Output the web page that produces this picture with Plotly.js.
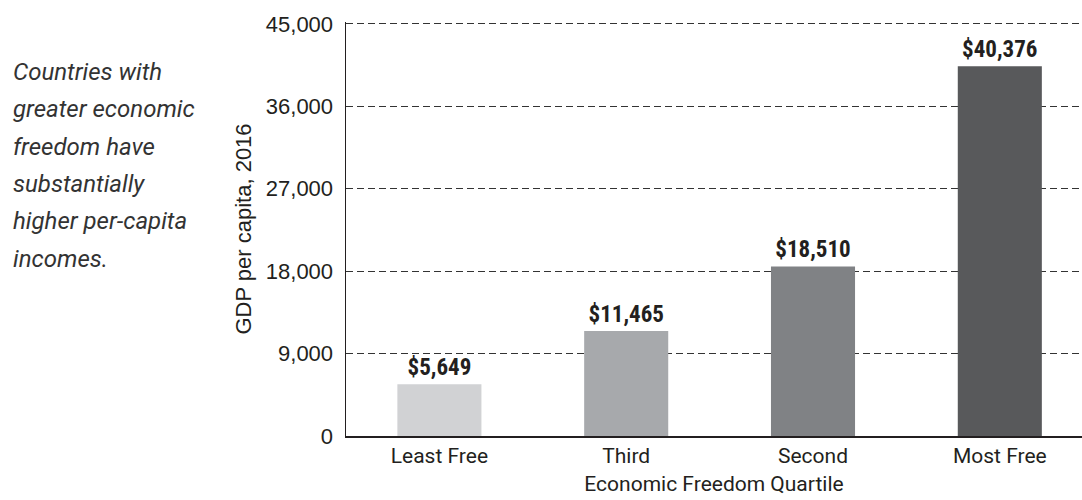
<!DOCTYPE html>
<html><head><meta charset="utf-8">
<script src="https://cdn.plot.ly/plotly-3.0.1.min.js"></script>
<style>body{margin:0;background:#fff}#c{width:1082px;height:500px}</style>
</head><body><div id="c"></div>
<script>
const categories = ["Least Free", "Third", "Second", "Most Free"];
const gdpValues = [5649, 11465, 18510, 40376];
const barLabels = ["$5,649", "$11,465", "$18,510", "$40,376"];
const barColors = ["#d1d2d4", "#a7a9ac", "#808285", "#58595b"];
const tickVals = [0, 9000, 18000, 27000, 36000, 45000];
const noteLines = ["Countries with", "greater economic", "freedom have", "substantially", "higher per-capita", "incomes."];

const trace = {
  type: "bar", x: categories, y: gdpValues,
  marker: {color: barColors},
  text: barLabels, textposition: "outside", cliponaxis: false,
  textfont: {family: "Liberation Sans Narrow, Roboto Condensed, Roboto", size: 23, color: "#231f20", weight: 700},
  hoverinfo: "none"
};
const annotations = noteLines.map((t, i) => ({
  xref: "paper", yref: "paper", x: -0.455, y: 0.8792 - i * 0.0901,
  xanchor: "left", yanchor: "middle", showarrow: false, text: t,
  font: {family: "Roboto", size: 24, color: "#333333", style: "italic"}
}));
const layout = {
  width: 1082, height: 500,
  margin: {l: 346, r: 0, t: 22, b: 64},
  paper_bgcolor: "#fff", plot_bgcolor: "#fff",
  showlegend: false, bargap: 0.55,
  xaxis: {
    range: [-0.5, 3.44], showline: true, linecolor: "#231f20", linewidth: 1.5,
    ticks: "", tickfont: {family: "Roboto", size: 21, color: "#231f20"},
    title: {text: "Economic Freedom Quartile", font: {family: "Roboto", size: 21, color: "#231f20"}, standoff: 9}
  },
  yaxis: {
    range: [0, 45200], tickvals: tickVals, tickformat: ",d",
    showline: true, linecolor: "#231f20", linewidth: 1.5,
    gridcolor: "#333333", griddash: "7px,4px", gridwidth: 1, zeroline: false,
    ticks: "outside", ticklen: 7, tickcolor: "rgba(0,0,0,0)",
    tickfont: {family: "Liberation Sans", size: 22, color: "#231f20"},
    title: {text: "GDP per capita, 2016", font: {family: "Liberation Sans", size: 22, color: "#231f20"}, standoff: 8}
  },
  annotations: annotations
};
Plotly.newPlot("c", [trace], layout, {staticPlot: true});
</script></body></html>
